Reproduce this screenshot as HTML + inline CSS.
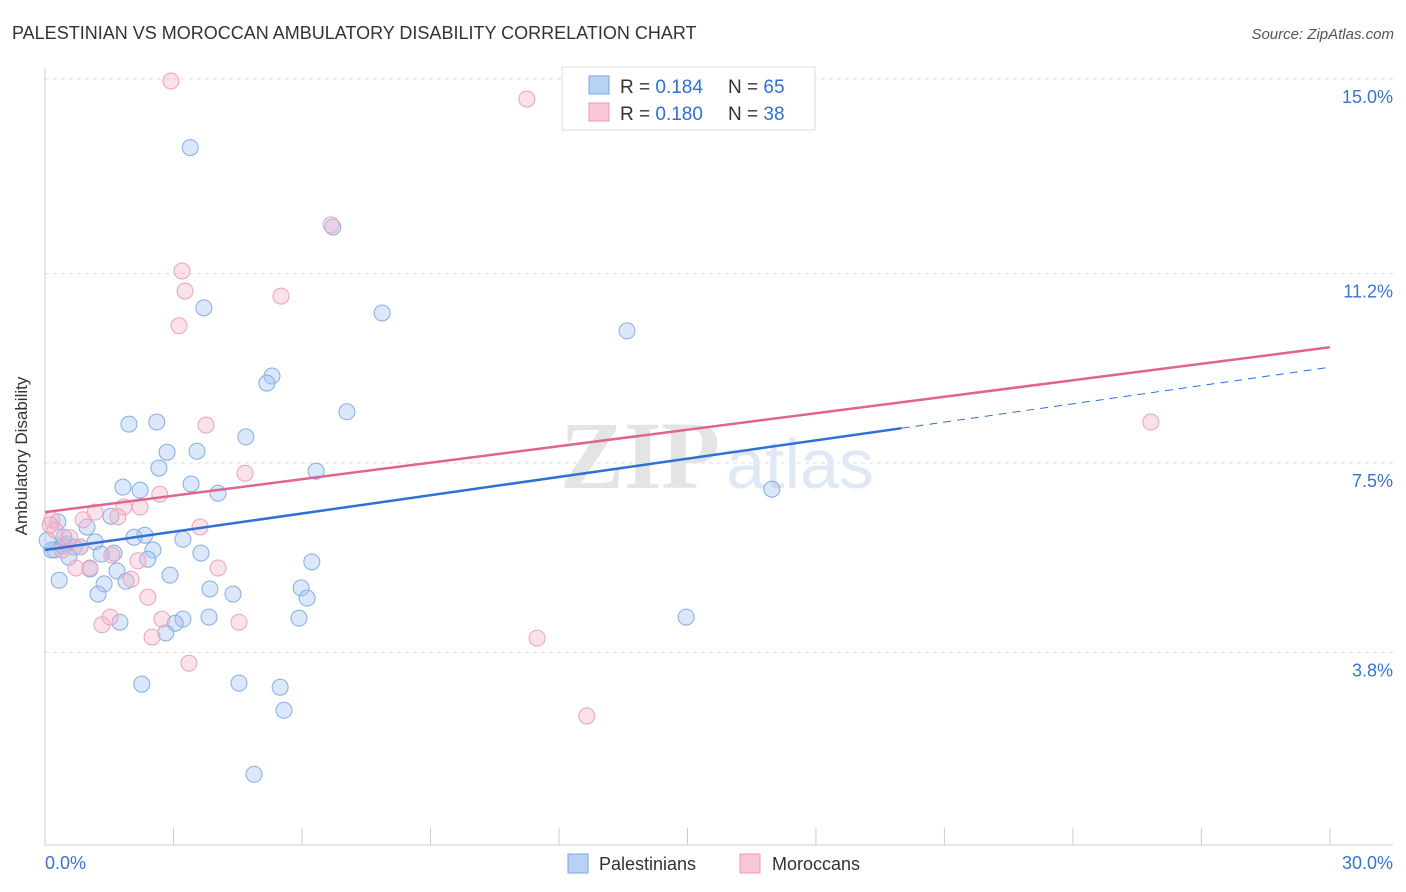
<!DOCTYPE html>
<html><head><meta charset="utf-8"><style>
body{margin:0;background:#fff;font-family:"Liberation Sans",sans-serif;}
svg{display:block}
</style></head><body>
<svg id="chart" width="1406" height="892" xmlns="http://www.w3.org/2000/svg">
<text x="12" y="39" font-size="18" fill="#333">PALESTINIAN VS MOROCCAN AMBULATORY DISABILITY CORRELATION CHART</text>
<text x="1394" y="39" font-size="15" fill="#555" font-style="italic" text-anchor="end">Source: ZipAtlas.com</text>
<g id="grid"></g>
<text x="640" y="488" font-size="96" fill="#e4e4e4" font-family="Liberation Serif" font-weight="bold" text-anchor="middle">ZIP</text>
<text x="800" y="488" font-size="70" fill="#dfe8f5" text-anchor="middle">atlas</text>
<line x1="45" y1="68" x2="45" y2="845" stroke="#ccc"/>
<line x1="45" y1="845" x2="1393" y2="845" stroke="#ccc"/>
<g id="xticks"></g>
<g id="pts"></g>
<g id="lines"></g>
<text x="27" y="456" font-size="17" fill="#333" text-anchor="middle" transform="rotate(-90 27 456)">Ambulatory Disability</text>
<text x="45" y="869" font-size="18" fill="#3b73d0">0.0%</text>
<text x="1393" y="869" font-size="18" fill="#3b73d0" text-anchor="end">30.0%</text>
<g>
<rect x="562" y="67" width="253" height="63" fill="#fff" stroke="#ddd"/>
<rect x="589" y="76" width="20" height="18" fill="#b8d2f5" stroke="#7aa6e0"/>
<text x="620" y="93" font-size="19" fill="#333">R = <tspan fill="#2f6fd6">0.184</tspan></text>
<text x="728" y="93" font-size="19" fill="#333">N = <tspan fill="#2f6fd6">65</tspan></text>
<rect x="589" y="103" width="20" height="18" fill="#f8c8d6" stroke="#e89ab4"/>
<text x="620" y="120" font-size="19" fill="#333">R = <tspan fill="#2f6fd6">0.180</tspan></text>
<text x="728" y="120" font-size="19" fill="#333">N = <tspan fill="#2f6fd6">38</tspan></text>
</g>
<g>
<rect x="568" y="854" width="20" height="19" fill="#b8d2f5" stroke="#7aa6e0"/>
<text x="599" y="870" font-size="18" fill="#333">Palestinians</text></g>
<g>
<rect x="740" y="854" width="20" height="19" fill="#f8c8d6" stroke="#e89ab4"/>
<text x="772" y="870" font-size="18" fill="#333">Moroccans</text></g>
</svg>
<script>
const yTicks=[3.8,7.5,11.2,15.0];
const yTickLabels=["3.8%","7.5%","11.2%","15.0%"];
const xTicks=[0,3,6,9,12,15,18,21,24,27,30];
const blueX=[3.39,6.72,3.71,7.87,13.59,5.30,5.18,7.05,2.61,1.96,4.69,3.55,2.85,2.66,6.33,3.41,1.82,2.22,4.04,16.97,1.54,0.98,2.33,2.08,3.22,1.17,0.51,2.52,0.42,0.68,3.64,2.40,1.61,1.31,0.23,0.56,6.23,1.05,1.68,2.92,0.33,1.89,1.38,3.85,5.98,1.24,4.39,6.12,14.97,3.83,5.93,1.75,3.22,3.04,2.82,2.26,4.53,5.49,5.58,4.88,0.16,0.05,0.82,0.44,0.30];
const blueY=[13.66,12.11,10.53,10.43,10.08,9.20,9.06,8.50,8.30,8.26,8.01,7.73,7.71,7.40,7.34,7.09,7.03,6.97,6.91,6.99,6.46,6.25,6.09,6.05,6.01,5.96,5.92,5.80,5.88,5.86,5.74,5.62,5.74,5.72,5.80,5.66,5.57,5.43,5.39,5.31,5.21,5.19,5.14,5.04,5.06,4.94,4.94,4.86,4.49,4.49,4.47,4.39,4.45,4.37,4.18,3.18,3.20,3.12,2.67,1.42,5.80,5.99,5.86,6.05,6.35];
const pinkX=[2.94,11.25,6.68,3.20,3.27,5.51,3.13,3.76,4.67,2.68,2.22,1.17,1.84,1.70,0.16,0.89,0.23,3.62,0.82,1.56,0.40,2.17,4.04,0.72,1.05,2.01,2.40,1.52,2.73,1.33,4.53,2.50,11.49,3.36,12.65,25.82,0.12,0.58];
const pinkY=[14.96,14.61,12.15,11.25,10.86,10.76,10.18,8.24,7.30,6.89,6.64,6.54,6.64,6.45,6.39,6.39,6.19,6.25,5.86,5.70,5.80,5.59,5.45,5.45,5.45,5.23,4.88,4.49,4.45,4.34,4.39,4.10,4.08,3.59,2.56,8.30,6.29,6.04];
const blueLine={x0:0,y0:5.80,x1:20.0,y1:8.18,x2:30,y2:9.37};
const pinkLine={x0:0,y0:6.54,x1:30,y1:9.76};
const X=v=>45+v*42.83, Y=v=>847-v*51.2;
const NS="http://www.w3.org/2000/svg";
function mk(t,a,p){const e=document.createElementNS(NS,t);for(const k in a)e.setAttribute(k,a[k]);p.appendChild(e);return e;}
const grid=document.getElementById('grid');
yTicks.forEach((t,i)=>{
 const l=mk('line',{x1:45,x2:1393,y1:Y(t),y2:Y(t),stroke:'#ddd','stroke-dasharray':'4,4'},grid);
 
 
 const tx=mk('text',{x:1393,y:Y(t)+24,'font-size':18,fill:'#3b73d0','text-anchor':'end'},grid);
 tx.textContent=yTickLabels[i];
 
 
});
const xt=document.getElementById('xticks');
xTicks.forEach(t=>{
 const l=mk('line',{x1:X(t),x2:X(t),y1:828,y2:845,stroke:'#ccc'},xt);
 
 
});
const pts=document.getElementById('pts');
blueX.forEach((v,i)=>{
 const c=mk('circle',{cx:X(v),cy:Y(blueY[i]),r:8,fill:'rgba(164,196,243,0.4)',stroke:'#86aee3','stroke-width':1},pts);
 
 
});
pinkX.forEach((v,i)=>{
 const c=mk('circle',{cx:X(v),cy:Y(pinkY[i]),r:8,fill:'rgba(246,180,200,0.4)',stroke:'#eaa4bc','stroke-width':1},pts);
 
 
});
const ln=document.getElementById('lines');
let a=mk('line',{x1:X(blueLine.x0),y1:Y(blueLine.y0),x2:X(blueLine.x1),y2:Y(blueLine.y1),stroke:'#2f6fd6','stroke-width':2.5},ln);


a=mk('line',{x1:X(blueLine.x1),y1:Y(blueLine.y1),x2:X(blueLine.x2),y2:Y(blueLine.y2),stroke:'#2f6fd6','stroke-width':1,'stroke-dasharray':'8,6'},ln);


a=mk('line',{x1:X(pinkLine.x0),y1:Y(pinkLine.y0),x2:X(pinkLine.x1),y2:Y(pinkLine.y1),stroke:'#e0648f','stroke-width':2.5},ln);


</script>
</body></html>
